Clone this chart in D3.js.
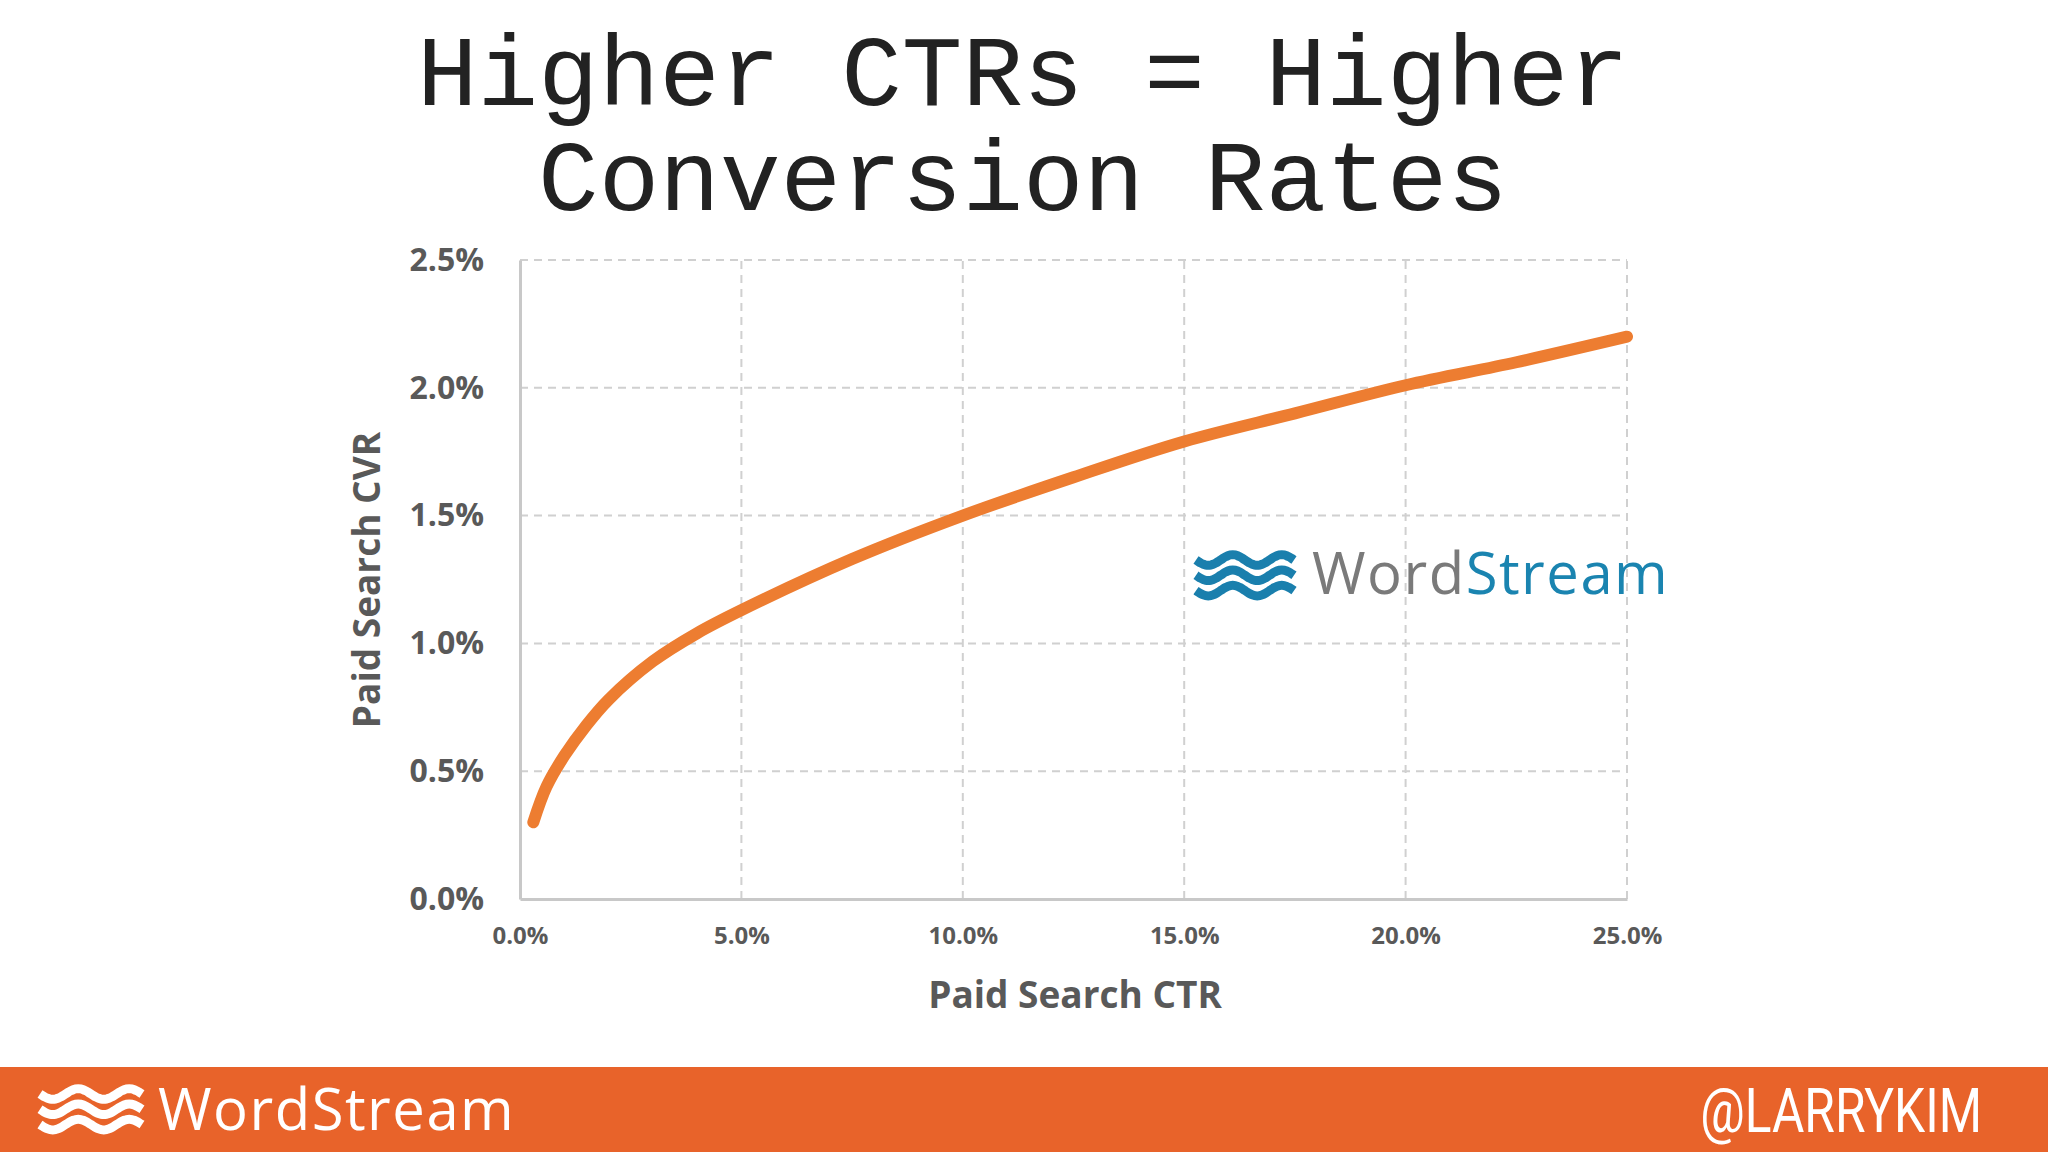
<!DOCTYPE html>
<html><head><meta charset="utf-8">
<script src="https://cdn.jsdelivr.net/npm/d3@7"></script>
<style>body{margin:0;background:#fff}</style>
</head><body>
<script>
// data (percent values)
var ctr = [0.3, 0.6, 1.0, 1.5, 2.0, 3.0, 4.0, 5.0, 7.5, 10.0, 12.5, 15.0, 17.5, 20.0, 22.5, 25.0];
var cvr = [0.3, 0.44, 0.56, 0.68, 0.78, 0.93, 1.04, 1.13, 1.33, 1.5, 1.65, 1.79, 1.9, 2.01, 2.1, 2.2];
var xTicks = [0, 5, 10, 15, 20, 25];
var yTicks = [0, 0.5, 1.0, 1.5, 2.0, 2.5];

var W = 2048, H = 1152;
var svg = d3.select("body").append("svg").attr("width", W).attr("height", H);

var x = d3.scaleLinear().domain([0, 25]).range([520, 1627]);
var y = d3.scaleLinear().domain([0, 2.5]).range([899, 260]);

// title
svg.append("text").attr("x", 1023).attr("y", 105).attr("text-anchor", "middle")
  .style("font-family", "Liberation Mono, monospace").style("font-size", "101px").attr("fill", "#222")
  .text("Higher CTRs = Higher");
svg.append("text").attr("x", 1023).attr("y", 210).attr("text-anchor", "middle")
  .style("font-family", "Liberation Mono, monospace").style("font-size", "101px").attr("fill", "#222")
  .text("Conversion Rates");

// grid
svg.selectAll(".gy").data(yTicks.slice(1)).enter().append("line")
  .attr("x1", x(0)).attr("x2", x(25)).attr("y1", d => y(d)).attr("y2", d => y(d))
  .attr("stroke", "#d0d0d0").attr("stroke-width", 2).attr("stroke-dasharray", "8,6");
svg.selectAll(".gx").data(xTicks.slice(1)).enter().append("line")
  .attr("x1", d => x(d)).attr("x2", d => x(d)).attr("y1", y(0)).attr("y2", y(2.5))
  .attr("stroke", "#d0d0d0").attr("stroke-width", 2).attr("stroke-dasharray", "8,6");

// axes
var ya = svg.append("g").attr("transform", "translate(" + x(0) + ",0)")
  .call(d3.axisLeft(y).tickValues(yTicks).tickSize(0).tickPadding(36).tickFormat(d => d.toFixed(1) + "%"));
var xa = svg.append("g").attr("transform", "translate(0," + y(0) + ")")
  .call(d3.axisBottom(x).tickValues(xTicks).tickSize(0).tickPadding(28).tickFormat(d => d.toFixed(1) + "%"));
ya.select(".domain").attr("stroke", "#c8c8c8").attr("stroke-width", 3);
xa.select(".domain").attr("stroke", "#c8c8c8").attr("stroke-width", 3);
ya.selectAll("text").style("font-family", "Open Sans, sans-serif").style("font-weight", "bold")
  .style("font-size", "32px").attr("fill", "#595959");
xa.selectAll("text").style("font-family", "Open Sans, sans-serif").style("font-weight", "bold")
  .style("font-size", "24px").attr("fill", "#595959");

svg.append("text").attr("x", 1075).attr("y", 1008).attr("text-anchor", "middle")
  .style("font-family", "Open Sans, sans-serif").style("font-weight", "bold").style("font-size", "37px")
  .attr("fill", "#595959").text("Paid Search CTR");
svg.append("text").attr("transform", "translate(380,580) rotate(-90)").attr("text-anchor", "middle")
  .style("font-family", "Open Sans, sans-serif").style("font-weight", "bold").style("font-size", "37px")
  .attr("fill", "#595959").text("Paid Search CVR");

// curve
svg.append("path").datum(d3.zip(ctr, cvr))
  .attr("d", d3.line().x(d => x(d[0])).y(d => y(d[1])).curve(d3.curveCatmullRom))
  .attr("fill", "none").attr("stroke", "#ED7D31").attr("stroke-width", 12).attr("stroke-linecap", "round");

// wave logo helper
function waves(g, x0, y0, w, color, sw) {
  for (var i = 0; i < 3; i++) {
    var pts = [];
    for (var k = 0; k <= 40; k++) {
      var t = k / 40;
      pts.push([x0 + t * w, y0 + i * sw * 1.7 + Math.sin(t * Math.PI * 4) * sw * 0.6]);
    }
    g.append("path").attr("d", d3.line().curve(d3.curveBasis)(pts))
      .attr("fill", "none").attr("stroke", color).attr("stroke-width", sw);
  }
}

// logo in plot
var lg = svg.append("g");
waves(lg, 1196, 560, 98, "#1a7fad", 9);
var lt = lg.append("text").attr("x", 1312).attr("y", 594)
  .style("font-family", "Open Sans, sans-serif").style("font-size", "58px").attr("letter-spacing", "1.5");
lt.append("tspan").attr("fill", "#7a7a7a").text("Word");
lt.append("tspan").attr("fill", "#1a84b0").text("Stream");

// footer
svg.append("rect").attr("x", 0).attr("y", 1067).attr("width", W).attr("height", 85).attr("fill", "#E8632A");
var fg = svg.append("g");
waves(fg, 40, 1094, 102, "#fff", 9);
fg.append("text").attr("x", 158).attr("y", 1130).attr("fill", "#fff")
  .style("font-family", "Open Sans, sans-serif").style("font-size", "58px").attr("letter-spacing", "1.5").text("WordStream");
svg.append("text").attr("x", 1982).attr("y", 1132).attr("text-anchor", "end").attr("fill", "#fff")
  .style("font-family", "Roboto, sans-serif").style("font-size", "62px")
  .attr("transform", "translate(1982,0) scale(0.8,1) translate(-1982,0)").text("@LARRYKIM");
</script>
</body></html>
